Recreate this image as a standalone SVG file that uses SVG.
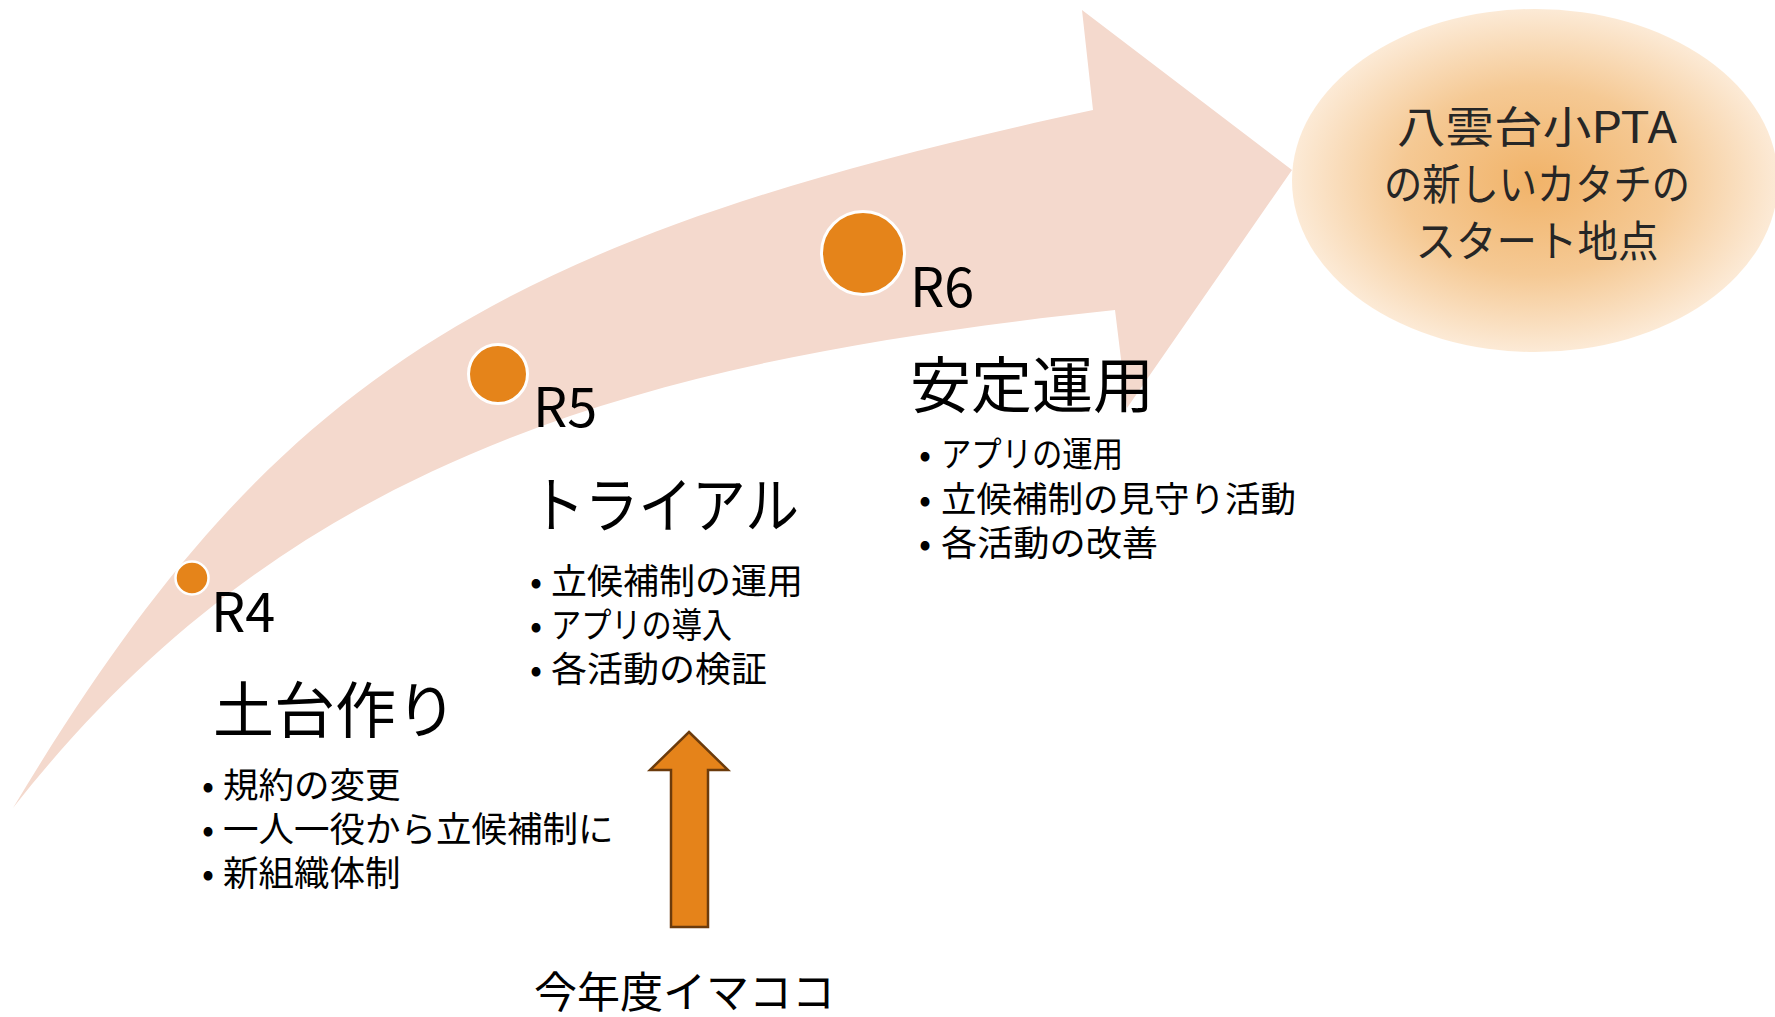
<svg xmlns="http://www.w3.org/2000/svg" width="1775" height="1017" viewBox="0 0 1775 1017">
  <defs>
    <radialGradient id="goalGrad" cx="50%" cy="50%" r="50%">
      <stop offset="0%" stop-color="#F1B369"/>
      <stop offset="55%" stop-color="#F5C994"/>
      <stop offset="100%" stop-color="#FCEAD6"/>
    </radialGradient>
    <style>
      .t { font-family: "Noto Sans CJK JP", "Noto Sans", sans-serif; fill: #000000; }
      .r { font-size: 54px; }
      .title { font-size: 61px; }
      .b { font-size: 35.5px; }
      .goal { font-size: 43px; fill: #262626; text-anchor: middle; }
      .dot { fill: #E5841A; stroke: #FFFFFF; }
    </style>
  </defs>
  <rect width="1775" height="1017" fill="#FFFFFF"/>

  <g id="connectors">
    <path id="timeline-arrow" fill="#F4D9CD"
      d="M 13 808 C 269 381 485 241 1093 110 L 1082 10 L 1292 170 L 1127 408 L 1115 310 C 649 359 290 454 13 808 Z"/>
    <path id="now-arrow" fill="#E5831A" stroke="#6B3B0C" stroke-width="2.5" stroke-linejoin="miter"
      d="M 689 732 L 728 770 L 708 770 L 708 927 L 671 927 L 671 770 L 650 770 Z"/>
  </g>

  <g id="goal">
    <ellipse cx="1535" cy="180.5" rx="243" ry="171.5" fill="url(#goalGrad)"/>
    <text class="t goal"><tspan x="1537" y="143" textLength="280" lengthAdjust="spacingAndGlyphs">八雲台小PTA</tspan><tspan x="1537" y="200" textLength="306" lengthAdjust="spacingAndGlyphs">の新しいカタチの</tspan><tspan x="1537" y="257" textLength="243" lengthAdjust="spacingAndGlyphs">スタート地点</tspan></text>
  </g>

  <g id="r4">
    <circle class="dot" cx="192" cy="578" r="16.5" stroke-width="2.5"/>
    <text class="t r" x="211" y="632">R4</text>
    <text class="t title" x="213" y="733">土台作り</text>
    <text class="t b"><tspan x="202" y="798">•</tspan><tspan x="223" y="798">規約の変更</tspan><tspan x="202" y="842">•</tspan><tspan x="223" y="842">一人一役から立候補制に</tspan><tspan x="202" y="886">•</tspan><tspan x="223" y="886">新組織体制</tspan></text>
  </g>

  <g id="r5">
    <circle class="dot" cx="498" cy="374" r="29.5" stroke-width="3"/>
    <text class="t r" x="533" y="427">R5</text>
    <text class="t title" x="531" y="528" textLength="268" lengthAdjust="spacingAndGlyphs">トライアル</text>
    <text class="t b"><tspan x="530" y="594">•</tspan><tspan x="551" y="594" textLength="252" lengthAdjust="spacingAndGlyphs">立候補制の運用</tspan><tspan x="530" y="638">•</tspan><tspan x="551" y="638" textLength="181" lengthAdjust="spacingAndGlyphs">アプリの導入</tspan><tspan x="530" y="682">•</tspan><tspan x="551" y="682" textLength="216" lengthAdjust="spacingAndGlyphs">各活動の検証</tspan></text>
  </g>

  <g id="r6">
    <circle class="dot" cx="863" cy="253" r="41.5" stroke-width="3"/>
    <text class="t r" x="910" y="307">R6</text>
    <text class="t title" x="910" y="408" font-size="62">安定運用</text>
    <text class="t b"><tspan x="919" y="467">•</tspan><tspan x="941" y="467" textLength="182" lengthAdjust="spacingAndGlyphs">アプリの運用</tspan><tspan x="919" y="512">•</tspan><tspan x="941" y="512">立候補制の見守り活動</tspan><tspan x="919" y="556">•</tspan><tspan x="941" y="556" textLength="217" lengthAdjust="spacingAndGlyphs">各活動の改善</tspan></text>
  </g>

  <g id="now-label">
    <text class="t" x="534" y="1008" font-size="43">今年度イマココ</text>
  </g>
</svg>
